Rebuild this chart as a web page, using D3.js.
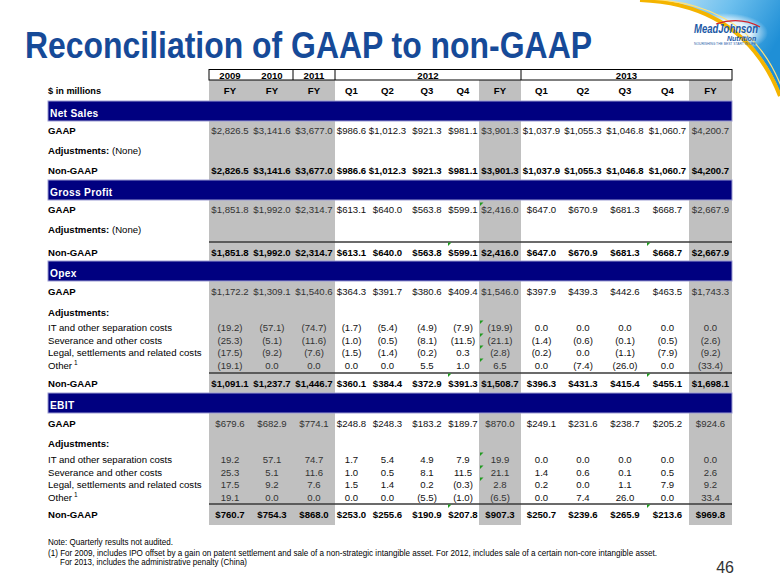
<!DOCTYPE html>
<html><head><meta charset="utf-8">
<script src="https://cdn.jsdelivr.net/npm/d3@7"></script>
<style>
body{margin:0;background:#fff;}
svg{display:block;font-family:"Liberation Sans",Arial,Helvetica,sans-serif;}
</style>
</head><body>
<svg id="chart" width="780" height="585"></svg>
<script>
// ---------------- DATA ----------------
const periods     = ["FY","FY","FY","Q1","Q2","Q3","Q4","FY","Q1","Q2","Q3","Q4","FY"];
const columnYears = ["2009","2010","2011","2012","2012","2012","2012","2012","2013","2013","2013","2013","2013"];

const netSalesGAAP    = [2826.5, 3141.6, 3677.0, 986.6, 1012.3, 921.3, 981.1, 3901.3, 1037.9, 1055.3, 1046.8, 1060.7, 4200.7];
const netSalesNonGAAP = [2826.5, 3141.6, 3677.0, 986.6, 1012.3, 921.3, 981.1, 3901.3, 1037.9, 1055.3, 1046.8, 1060.7, 4200.7];

const grossProfitGAAP    = [1851.8, 1992.0, 2314.7, 613.1, 640.0, 563.8, 599.1, 2416.0, 647.0, 670.9, 681.3, 668.7, 2667.9];
const grossProfitNonGAAP = [1851.8, 1992.0, 2314.7, 613.1, 640.0, 563.8, 599.1, 2416.0, 647.0, 670.9, 681.3, 668.7, 2667.9];

const opexGAAP      = [1172.2, 1309.1, 1540.6, 364.3, 391.7, 380.6, 409.4, 1546.0, 397.9, 439.3, 442.6, 463.5, 1743.3];
const opexITSep     = [-19.2, -57.1, -74.7, -1.7, -5.4, -4.9, -7.9, -19.9, 0.0, 0.0, 0.0, 0.0, 0.0];
const opexSeverance = [-25.3, -5.1, -11.6, -1.0, -0.5, -8.1, -11.5, -21.1, -1.4, -0.6, -0.1, -0.5, -2.6];
const opexLegal     = [-17.5, -9.2, -7.6, -1.5, -1.4, -0.2, 0.3, -2.8, -0.2, 0.0, -1.1, -7.9, -9.2];
const opexOther     = [-19.1, 0.0, 0.0, 0.0, 0.0, 5.5, 1.0, 6.5, 0.0, -7.4, -26.0, 0.0, -33.4];
const opexNonGAAP   = [1091.1, 1237.7, 1446.7, 360.1, 384.4, 372.9, 391.3, 1508.7, 396.3, 431.3, 415.4, 455.1, 1698.1];

const ebitGAAP      = [679.6, 682.9, 774.1, 248.8, 248.3, 183.2, 189.7, 870.0, 249.1, 231.6, 238.7, 205.2, 924.6];
const ebitITSep     = [19.2, 57.1, 74.7, 1.7, 5.4, 4.9, 7.9, 19.9, 0.0, 0.0, 0.0, 0.0, 0.0];
const ebitSeverance = [25.3, 5.1, 11.6, 1.0, 0.5, 8.1, 11.5, 21.1, 1.4, 0.6, 0.1, 0.5, 2.6];
const ebitLegal     = [17.5, 9.2, 7.6, 1.5, 1.4, 0.2, -0.3, 2.8, 0.2, 0.0, 1.1, 7.9, 9.2];
const ebitOther     = [19.1, 0.0, 0.0, 0.0, 0.0, -5.5, -1.0, -6.5, 0.0, 7.4, 26.0, 0.0, 33.4];
const ebitNonGAAP   = [760.7, 754.3, 868.0, 253.0, 255.6, 190.9, 207.8, 907.3, 250.7, 239.6, 265.9, 213.6, 969.8];

const adjustmentLabels = ["IT and other separation costs", "Severance and other costs", "Legal, settlements and related costs", "Other"];
const sectionTitles = ["Net Sales", "Gross Profit", "Opex", "EBIT"];
const footnotes = [
  "Note: Quarterly results not audited.",
  "(1) For 2009, includes IPO offset by a gain on patent settlement and sale of a non-strategic intangible asset.  For 2012, includes sale of a certain non-core intangible asset.",
  "For 2013, includes the administrative penalty (China)"
];
// Excel-style green error markers: [section, row kind, item index, column]
const markers = [
  [1,"gaap",0,7],[1,"non",0,6],[1,"non",0,11],
  [2,"item",0,7],[2,"item",1,7],[2,"item",2,7],[2,"item",3,7],[2,"non",0,6],[2,"non",0,11],
  [3,"item",0,7],[3,"item",1,7],[3,"item",2,7],[3,"non",0,6],[3,"non",0,11]
];

// table built from arrays
const sections = [
  {title: sectionTitles[0], gaap: netSalesGAAP, items: [], non: netSalesNonGAAP},
  {title: sectionTitles[1], gaap: grossProfitGAAP, items: [], non: grossProfitNonGAAP},
  {title: sectionTitles[2], gaap: opexGAAP, items: [opexITSep, opexSeverance, opexLegal, opexOther], non: opexNonGAAP},
  {title: sectionTitles[3], gaap: ebitGAAP, items: [ebitITSep, ebitSeverance, ebitLegal, ebitOther], non: ebitNonGAAP}
];

// ---------------- LAYOUT ----------------
const colEdges = [209, 251, 293, 335, 368, 407, 447, 479, 521, 562, 604, 646, 689, 732];
const tableLeft = 48, tableRight = 732;
const sectionLayout = [
  {bar:101, gaap:133.5, adj:153.5, items:[], rule:null, non:173.5},
  {bar:180, gaap:212.5, adj:232.5, items:[], rule:242, non:255.5},
  {bar:261, gaap:294.5, adj:315.5, items:[330.5,343.5,355.5,368.5], rule:373, non:386.5},
  {bar:393, gaap:426.5, adj:446.5, items:[462.5,475.5,487.5,500.5], rule:504, non:517.5}
];
const barH = 20;
const grayTop = 80, grayBottom = 525;
const NAVY = "#000080", GRAY = "#c0c0c0";

const cols = d3.range(periods.length);
const xL = d3.scaleOrdinal().domain(cols).range(colEdges.slice(0, -1));
const xR = d3.scaleOrdinal().domain(cols).range(colEdges.slice(1));
const xC = c => (xL(c) + xR(c)) / 2;

const f1 = d3.format(",.1f");
const money = v => "$" + f1(v);
const adj = v => v < 0 ? "(" + f1(-v) + ")" : f1(Math.abs(v));

const svg = d3.select("#chart");

// ---------------- LOGO / DECORATION ----------------
const defs = svg.append("defs");
const lg = defs.append("linearGradient").attr("id","sky").attr("x1","0").attr("y1","0").attr("x2","1").attr("y2","0.4");
lg.append("stop").attr("offset","0").attr("stop-color","#cfe9f8");
lg.append("stop").attr("offset","0.55").attr("stop-color","#6ec0ee");
lg.append("stop").attr("offset","1").attr("stop-color","#1f8fd6");
const rg = defs.append("radialGradient").attr("id","glow").attr("cx","0.5").attr("cy","0.5").attr("r","0.5");
rg.append("stop").attr("offset","0").attr("stop-color","#ffffff").attr("stop-opacity","1");
rg.append("stop").attr("offset","0.6").attr("stop-color","#ffffff").attr("stop-opacity","0.85");
rg.append("stop").attr("offset","1").attr("stop-color","#ffffff").attr("stop-opacity","0");

svg.append("path").attr("d","M648,0 Q745,6 780,92 L780,0 Z").attr("fill","url(#sky)");
svg.append("ellipse").attr("cx",724).attr("cy",33).attr("rx",44).attr("ry",20).attr("fill","url(#glow)");
svg.append("path").attr("d","M640,0 Q744,4 780,96").attr("fill","none").attr("stroke","#f4b400").attr("stroke-width",4);
svg.append("path").attr("d","M646,-1 Q748,2 781,86").attr("fill","none").attr("stroke","#ffe27a").attr("stroke-width",1.2);
svg.append("path").attr("d","M716,24 Q740,16 760,27").attr("fill","none").attr("stroke","#d2232a").attr("stroke-width",1.3);
svg.append("text").attr("x",694).attr("y",33).attr("font-size",12.5).attr("font-weight","bold").attr("font-style","italic")
  .attr("fill","#1d5aa6").attr("textLength",64).attr("lengthAdjust","spacingAndGlyphs").text("MeadJohnson");
svg.append("text").attr("x",727).attr("y",40.5).attr("font-size",7).attr("font-weight","bold").attr("font-style","italic")
  .attr("fill","#1d5aa6").text("Nutrition");
svg.append("text").attr("x",694).attr("y",45).attr("font-size",2.6).attr("fill","#1d5aa6")
  .attr("textLength",62).attr("lengthAdjust","spacingAndGlyphs").text("NOURISHING THE BEST START IN LIFE");

// ---------------- TITLE ----------------
svg.append("text").attr("x",25).attr("y",58).attr("font-size",36).attr("font-weight","bold")
  .attr("fill","#164a98").attr("textLength",567).attr("lengthAdjust","spacingAndGlyphs")
  .text("Reconciliation of GAAP to non-GAAP");

// ---------------- TABLE BACKGROUND ----------------
const grayCols = cols.filter(c => periods[c] === "FY");
svg.append("g").selectAll("rect").data(grayCols).join("rect")
  .attr("x", c => xL(c)).attr("width", c => xR(c) - xL(c))
  .attr("y", grayTop).attr("height", grayBottom - grayTop).attr("fill", GRAY);

// year header boxes
const yearGroups = d3.groups(cols, c => columnYears[c]);
const hdr = svg.append("g");
hdr.append("rect").attr("x", colEdges[0]).attr("y", 69.5).attr("width", tableRight - colEdges[0]).attr("height", 10.5)
  .attr("fill", "#fff").attr("stroke", "#000").attr("stroke-width", 1);
yearGroups.forEach(([yr, cs], i) => {
  const l = xL(cs[0]), r = xR(cs[cs.length - 1]);
  if (i >= 2) hdr.append("line").attr("x1", l).attr("x2", l).attr("y1", 69.5).attr("y2", 80).attr("stroke", "#000");
  hdr.append("text").attr("x", (l + r) / 2).attr("y", 78.5).attr("text-anchor", "middle")
    .attr("font-size", 9.6).attr("font-weight", "bold").text(yr);
});
hdr.append("text").attr("x", tableLeft).attr("y", 94).attr("font-size", 9.2).attr("font-weight", "bold").text("$ in millions");
hdr.selectAll("text.p").data(cols).join("text").attr("class","p")
  .attr("x", c => xC(c)).attr("y", 94).attr("text-anchor","middle")
  .attr("font-size", 9.6).attr("font-weight","bold").text(c => periods[c]);

// ---------------- SECTIONS ----------------
const FS = 9.6;
sections.forEach((s, si) => {
  const L = sectionLayout[si];
  const g = svg.append("g");
  g.append("rect").attr("x", tableLeft).attr("y", L.bar).attr("width", tableRight - tableLeft).attr("height", barH)
    .attr("fill", NAVY).attr("stroke", "#9c9cd2").attr("stroke-width", 1);
  g.append("text").attr("x", tableLeft + 2).attr("y", L.bar + 15.5).attr("font-size", 10.2).attr("font-weight","bold")
    .attr("fill", "#fff").attr("letter-spacing", 0.3).text(s.title);

  // GAAP
  g.append("text").attr("x", tableLeft).attr("y", L.gaap).attr("font-size", FS).attr("font-weight","bold").text("GAAP");
  g.selectAll("text.gaap").data(s.gaap).join("text").attr("class","gaap")
    .attr("x", (d, c) => xC(c)).attr("y", L.gaap).attr("text-anchor","middle").attr("font-size", FS)
    .attr("fill", (d, c) => periods[c] === "FY" ? "#333" : "#111").text(d => money(d));

  // Adjustments label
  const at = g.append("text").attr("x", tableLeft).attr("y", L.adj).attr("font-size", FS);
  at.append("tspan").attr("font-weight","bold").text("Adjustments:");
  if (s.items.length === 0) at.append("tspan").text(" (None)");

  // adjustment items
  s.items.forEach((arr, ii) => {
    const y = L.items[ii];
    const lt = g.append("text").attr("x", tableLeft).attr("y", y).attr("font-size", FS).text(adjustmentLabels[ii]);
    if (ii === 3) lt.append("tspan").attr("dx", 2).attr("dy", -3.5).attr("font-size", 6.5).text("1");
    g.selectAll("text.it" + ii).data(arr).join("text").attr("class", "it" + ii)
      .attr("x", (d, c) => xC(c)).attr("y", y).attr("text-anchor","middle").attr("font-size", FS)
      .attr("fill", (d, c) => periods[c] === "FY" ? "#333" : "#111").text(d => adj(d));
  });

  if (L.rule !== null) {
    g.append("line").attr("x1", colEdges[0]).attr("x2", tableRight).attr("y1", L.rule).attr("y2", L.rule)
      .attr("stroke", "#3a3a3a").attr("stroke-width", 1.5);
  }

  // Non-GAAP
  g.append("text").attr("x", tableLeft).attr("y", L.non).attr("font-size", FS).attr("font-weight","bold").text("Non-GAAP");
  g.selectAll("text.non").data(s.non).join("text").attr("class","non")
    .attr("x", (d, c) => xC(c)).attr("y", L.non).attr("text-anchor","middle").attr("font-size", FS)
    .attr("font-weight","bold").text(d => money(d));
});

// green markers
svg.append("g").selectAll("path").data(markers).join("path")
  .attr("d", ([si, kind, ii, c]) => {
    const L = sectionLayout[si];
    const base = kind === "gaap" ? L.gaap : kind === "non" ? L.non : L.items[ii];
    const x = xL(c) + 1, y = base - (kind === "non" ? 13 : 10);
    return `M${x},${y} h3.5 L${x},${y + 3.5} Z`;
  })
  .attr("fill", "#1f9a1f");

// ---------------- FOOTNOTES ----------------
svg.append("text").attr("x", tableLeft).attr("y", 545).attr("font-size", 8.6)
  .attr("textLength", 125).attr("lengthAdjust", "spacingAndGlyphs").text(footnotes[0]);
svg.append("text").attr("x", tableLeft).attr("y", 555.5).attr("font-size", 8.6)
  .attr("textLength", 609).attr("lengthAdjust", "spacingAndGlyphs").text(footnotes[1]);
svg.append("text").attr("x", 60).attr("y", 565).attr("font-size", 8.6)
  .attr("textLength", 187).attr("lengthAdjust", "spacingAndGlyphs").text(footnotes[2]);

svg.append("text").attr("x", 734).attr("y", 573).attr("text-anchor","end").attr("font-size", 16).attr("fill","#333").text("46");
</script>
</body></html>
